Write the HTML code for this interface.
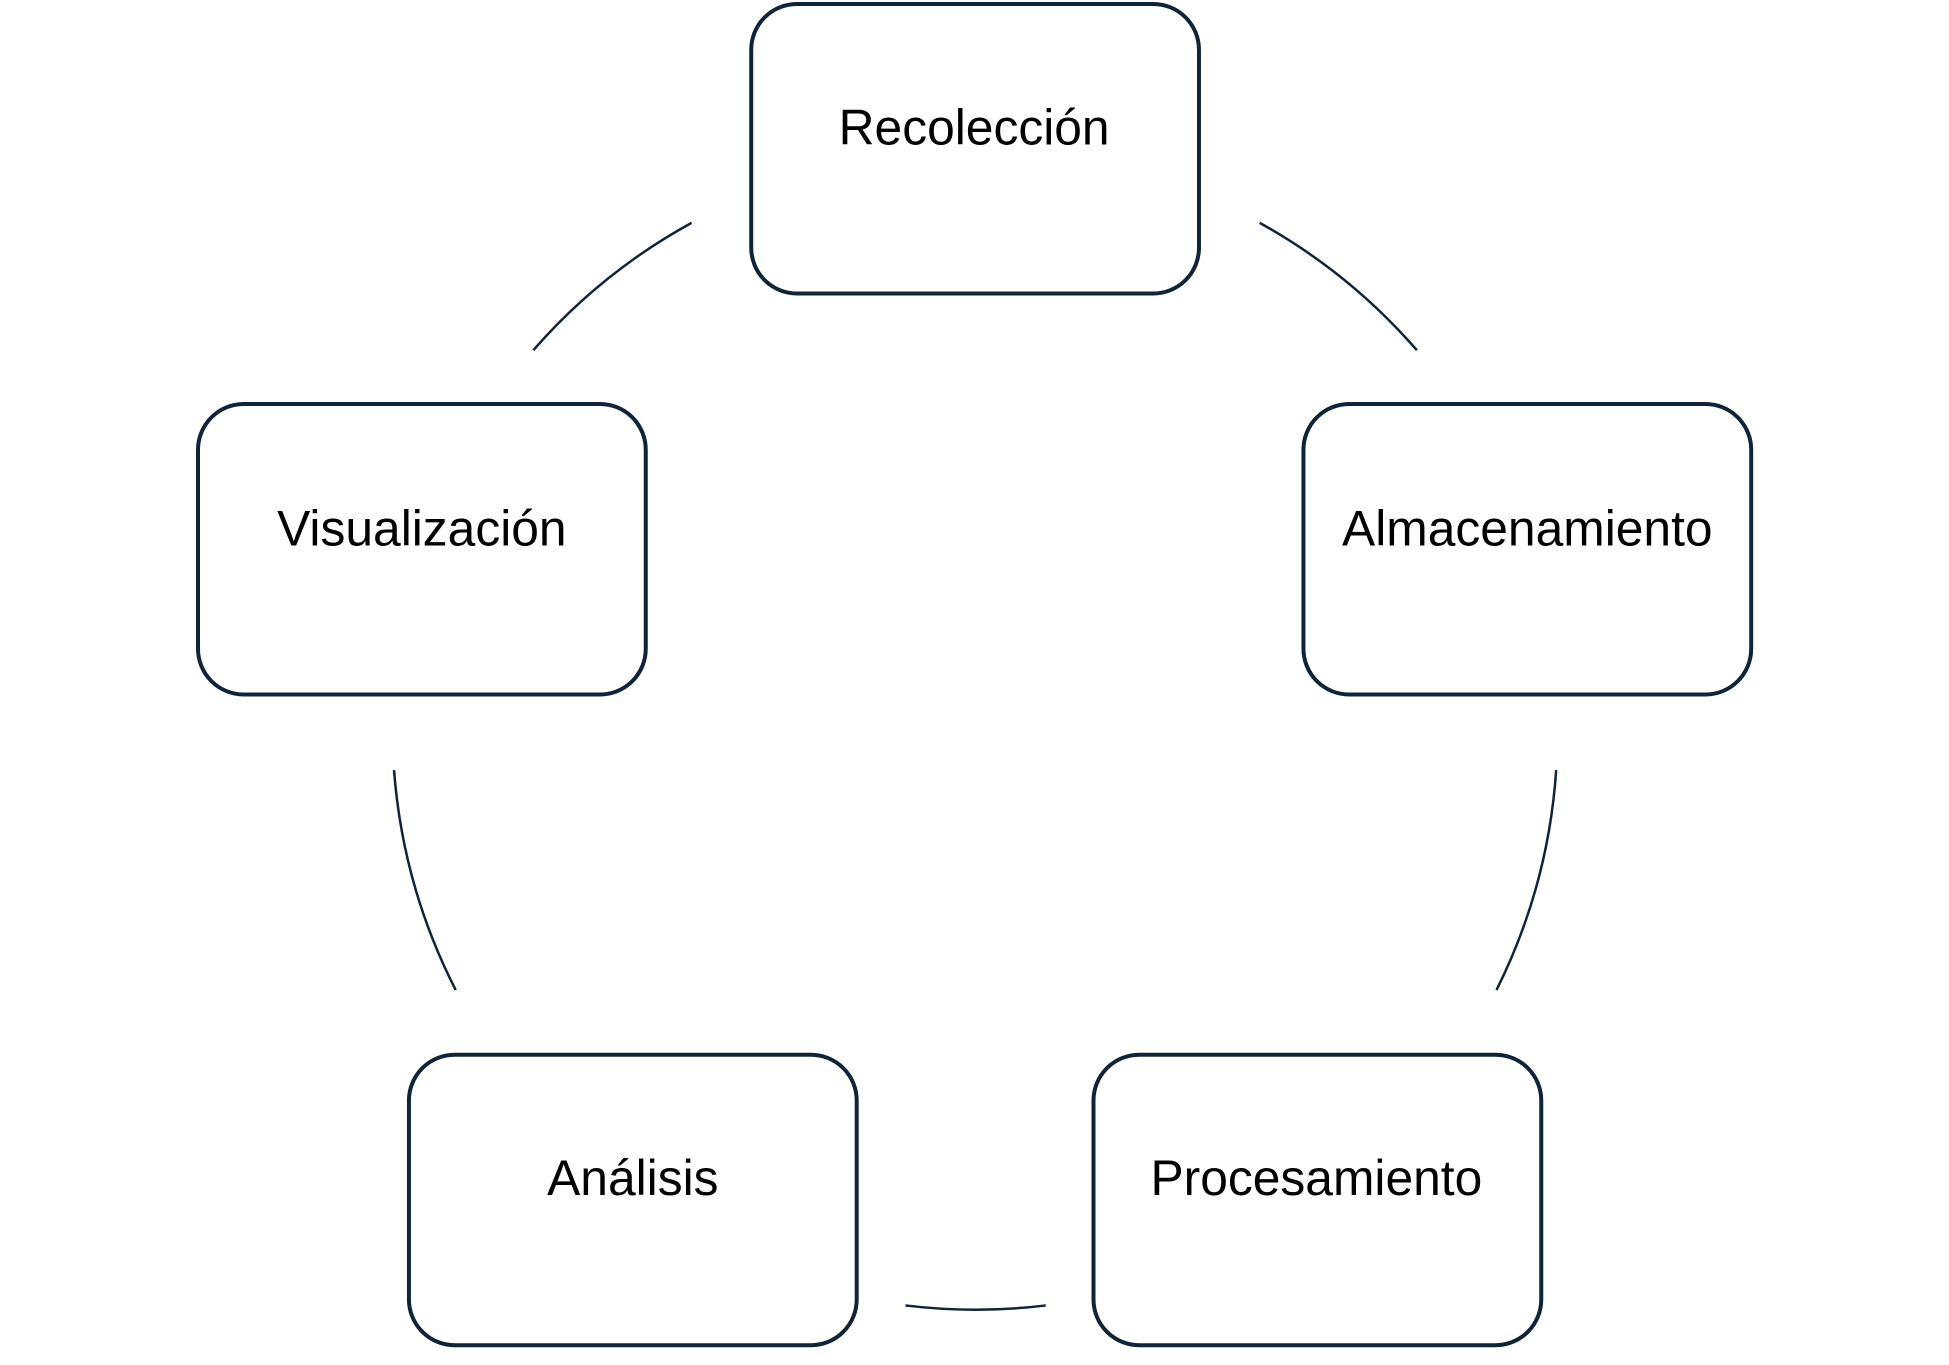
<!DOCTYPE html>
<html><head><meta charset="utf-8"><style>
html,body{margin:0;padding:0;background:#fff;}
svg{display:block}
text{font-family:"Liberation Sans",Arial,sans-serif;font-size:50px;fill:#000;text-anchor:middle}
</style></head><body>
<svg width="1949" height="1365" viewBox="0 0 1949 1365" xmlns="http://www.w3.org/2000/svg">
<g transform="scale(0.995)">
<g fill="#fff" stroke="#0f2339" stroke-width="4">
<rect x="755" y="4" width="450" height="291" rx="46"/>
<rect x="1310" y="406" width="450" height="292" rx="46"/>
<rect x="199" y="406" width="450" height="292" rx="46"/>
<rect x="411" y="1060" width="450" height="292" rx="46"/>
<rect x="1099" y="1060" width="450" height="292" rx="46"/>
</g>
<g fill="none" stroke="#0f2339" stroke-width="2.5">
<path d="M695 224 A583 583 0 0 0 536 352"/>
<path d="M1266 224 A583 583 0 0 1 1424 352"/>
<path d="M396 774 A583 583 0 0 0 458 995"/>
<path d="M1564 774 A583 583 0 0 1 1504 995"/>
<path d="M910 1312 A583 583 0 0 0 1051 1312"/>
</g>
<text x="979" y="145">Recolección</text>
<text x="1535" y="548">Almacenamiento</text>
<text x="424" y="548">Visualización</text>
<text x="636" y="1201">Análisis</text>
<text x="1323" y="1201">Procesamiento</text>
</g>
</svg>
</body></html>
